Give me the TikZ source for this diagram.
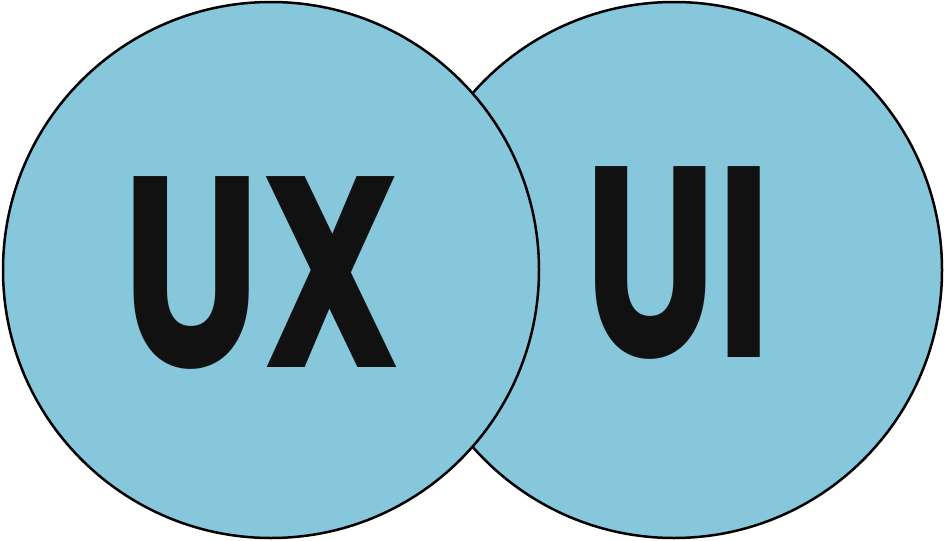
\documentclass[tikz,border=0pt]{standalone}
\usepackage{fontspec}
\setmainfont{Poppins}
\definecolor{circfill}{RGB}{134,199,219}
\definecolor{ink}{RGB}{17,17,17}
\begin{document}
\begin{tikzpicture}[x=1pt,y=-1pt,
  circ/.style={draw=black,line width=2.5pt,fill=circfill},
  bigtext/.style={inner sep=0pt,text=ink,font=\fontsize{272}{272}\selectfont\bfseries}]
\useasboundingbox (0,0) rectangle (946,541);
\draw[circ] (674,270) circle[radius=268];
\draw[circ] (271,270) circle[radius=268];
\node[bigtext,xscale=0.72] (ux) at (262,273) {UX};
\node[bigtext,xscale=0.69] (ui) at (678,263) {UI};
\end{tikzpicture}
\end{document}
